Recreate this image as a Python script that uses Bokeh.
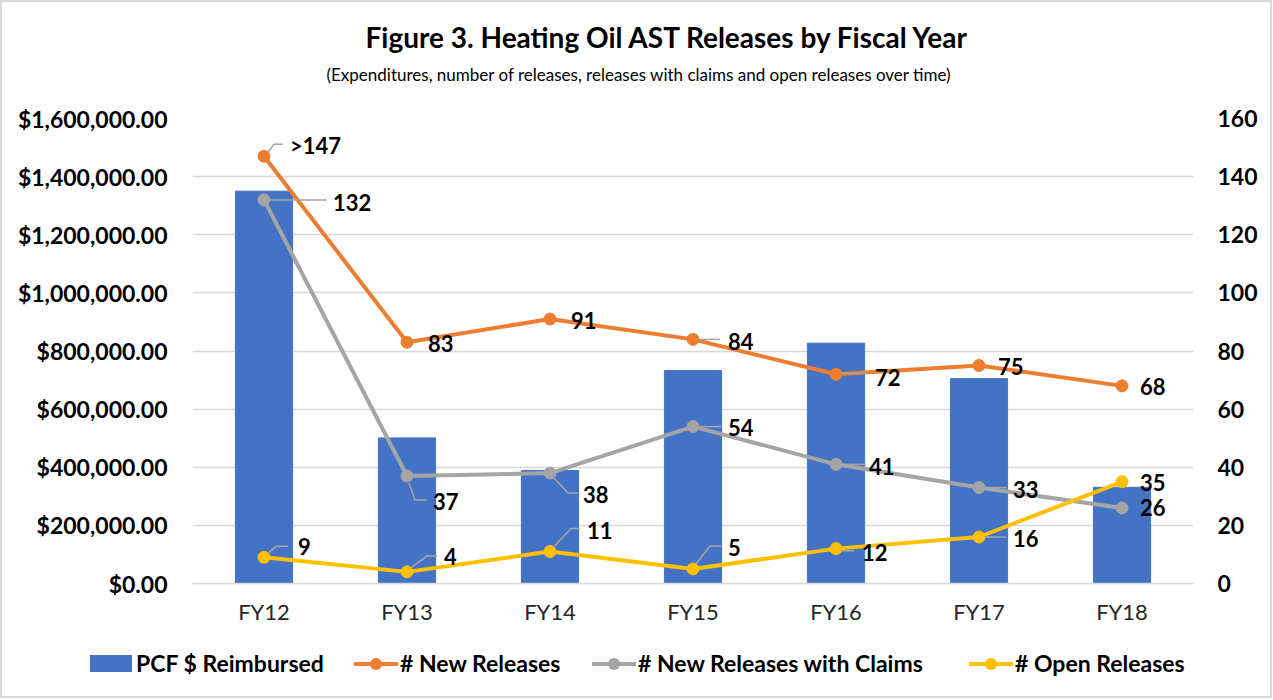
from bokeh.plotting import figure
from bokeh.layouts import column
from bokeh.models import (Range1d, LinearAxis, FixedTicker, NumeralTickFormatter,
                          ColumnDataSource, Title, Div)
from bokeh.core.properties import value
from bokeh.embed import file_html
from bokeh.resources import INLINE

# ---------------- data ----------------
categories = ["FY12", "FY13", "FY14", "FY15", "FY16", "FY17", "FY18"]
pcf_reimbursed = [1350000, 501000, 389000, 733000, 827000, 705000, 331000]
new_releases = [147, 83, 91, 84, 72, 75, 68]
new_releases_text = [">147", "83", "91", "84", "72", "75", "68"]
releases_with_claims = [132, 37, 38, 54, 41, 33, 26]
open_releases = [9, 4, 11, 5, 12, 16, 35]
left_ticks = [0, 200000, 400000, 600000, 800000, 1000000, 1200000, 1400000, 1600000]
right_ticks = [0, 20, 40, 60, 80, 100, 120, 140, 160]
series_names = ["PCF $ Reimbursed", "# New Releases", "# New Releases with Claims",
                "# Open Releases"]

title_text = "Figure 3. Heating Oil AST Releases by Fiscal Year"
subtitle_text = "(Expenditures, number of releases,  releases with claims and open releases over time)"

# ---------------- style ----------------
FONT = "Lato"
BLUE, ORANGE, GREY, YELLOW = "#4472C4", "#ED7D31", "#A5A5A5", "#FFC000"
series_colors = [BLUE, ORANGE, GREY, YELLOW]
legend_left = [88, 352, 590, 967]      # px position of each legend entry
LEADER = "#A6A6A6"
W = 1268
H1, H2 = 638, 56             # chart part / legend strip (inside 2px border)
FL, FT = 190, 116            # frame left / top
FRAME_W, FRAME_H = 1001, 465
X0, X1 = -0.5, 6.5
px_x = FRAME_W / (X1 - X0)
px_y = FRAME_H / right_ticks[-1]

# label offsets in px (dx right, dy down) from each marker
nr_off = [(26, -11), (21, 1), (21, 1), (35, 2), (39, 3), (19, 1), (18, 1)]
cl_off = [(69, 3), (26, 26), (33, 21), (35, 1), (33, 2), (34, 2), (18, 0)]
op_off = [(34, -11), (37, -15), (37, -21), (35, -21), (26, 4), (34, 1), (18, 1)]
# leader-line paths in px offsets from each marker
nr_lead = [[(4, -4), (10, -12), (19, -12)], None, None, [(6, 0), (27, 0)],
           [(6, -1), (31, -1)], None, None]
cl_lead = [[(6, 0), (63, 0)], [(2, 7), (8, 24), (20, 24)], [(4, 5), (18, 20), (28, 20)],
           [(6, 0), (28, 0)], [(6, 0), (30, 0)], [(6, 0), (28, 0)], None]
op_lead = [[(4, -4), (12, -11), (24, -11)], [(4, -4), (20, -16), (30, -16)],
           [(4, -5), (21, -23), (30, -23)], [(3, -5), (17, -23), (28, -23)],
           [(5, 2), (18, 2)], [(6, 0), (27, 0)], None]

xs = list(range(len(categories)))

p = figure(frame_width=FRAME_W, frame_height=FRAME_H, width=W, height=H1,
           x_range=Range1d(X0, X1), y_range=Range1d(0, left_ticks[-1]),
           output_backend="svg", toolbar_location=None, title=title_text,
           min_border_left=FL, min_border_right=W - FL - FRAME_W, min_border_top=FT,
           min_border_bottom=H1 - FT - FRAME_H)
p.extra_y_ranges = {"right": Range1d(0, right_ticks[-1])}
p.outline_line_color = None
p.background_fill_color = "white"
p.border_fill_color = "white"

# titles (stacked outward from the frame: spacer, subtitle, title)
p.title.align = "left"
p.title.offset = 173
p.title.standoff = 2
p.title.text_font = FONT
p.title.text_font_size = "28px"
p.title.text_font_style = "bold"
p.title.text_color = "black"
p.add_layout(Title(text=" ", text_font_size="10px", standoff=14), "above")
p.add_layout(Title(text=subtitle_text, align="left", offset=134, text_font=FONT,
                   text_font_size="17px", text_font_style="normal",
                   text_color="black", standoff=14), "above")

# axes
p.xaxis.ticker = FixedTicker(ticks=xs)
p.xaxis.major_label_overrides = {i: c for i, c in enumerate(categories)}
p.xaxis.axis_line_color = "#D9D9D9"
p.xaxis.axis_line_width = 1.5
p.xaxis.major_tick_line_color = None
p.xaxis.minor_tick_line_color = None
p.xaxis.major_label_standoff = 8
p.xaxis.major_label_text_font = FONT
p.xaxis.major_label_text_font_size = "22px"
p.xaxis.major_label_text_color = "#262626"

p.yaxis.ticker = FixedTicker(ticks=left_ticks)
p.yaxis.formatter = NumeralTickFormatter(format="$0,0.00")
p.yaxis.axis_line_color = None
p.yaxis.major_tick_line_color = None
p.yaxis.minor_tick_line_color = None
p.yaxis.major_label_standoff = 19
p.yaxis.major_label_text_font = FONT
p.yaxis.major_label_text_font_size = "23px"
p.yaxis.major_label_text_font_style = "bold"
p.yaxis.major_label_text_color = "black"

raxis = LinearAxis(y_range_name="right", ticker=FixedTicker(ticks=right_ticks),
                   axis_line_color=None, major_tick_line_color=None,
                   minor_tick_line_color=None, major_label_standoff=18,
                   major_label_text_font=FONT, major_label_text_font_size="23px",
                   major_label_text_font_style="bold", major_label_text_color="black")
p.add_layout(raxis, "right")

p.xgrid.grid_line_color = None
p.ygrid.grid_line_color = "#D9D9D9"
p.ygrid.grid_line_width = 1.5

# bars
p.vbar(x=xs, top=pcf_reimbursed, width=0.4, fill_color=BLUE, line_color=BLUE)

# lines
for vals, color in [(new_releases, ORANGE), (releases_with_claims, GREY),
                    (open_releases, YELLOW)]:
    p.line(xs, vals, line_color=color, line_width=4, y_range_name="right")
    p.scatter(xs, vals, size=12, fill_color=color, line_color=color,
              y_range_name="right")

# leaders and labels
lx, ly = [], []
tx, ty, tt, tdx, tdy = [], [], [], [], []
for vals, texts, offs, leads in [
        (new_releases, new_releases_text, nr_off, nr_lead),
        (releases_with_claims, [str(v) for v in releases_with_claims], cl_off, cl_lead),
        (open_releases, [str(v) for v in open_releases], op_off, op_lead)]:
    for i, v in enumerate(vals):
        tx.append(xs[i]); ty.append(v); tt.append(texts[i])
        tdx.append(offs[i][0]); tdy.append(offs[i][1])
        if leads[i]:
            lx.append([xs[i] + dx / px_x for dx, dy in leads[i]])
            ly.append([v - dy / px_y for dx, dy in leads[i]])

p.multi_line(lx, ly, line_color=LEADER, line_width=1.5, y_range_name="right")
lab_src = ColumnDataSource(dict(x=tx, y=ty, text=tt, dx=tdx, dy=tdy))
p.text(x="x", y="y", text="text", x_offset="dx", y_offset="dy", source=lab_src,
       y_range_name="right", text_font=value(FONT), text_font_size="22px",
       text_font_style="bold", text_color="black", text_align="left",
       text_baseline="middle")

# ---------------- legend strip ----------------
parts = []
for k, (name, color, left) in enumerate(zip(series_names, series_colors, legend_left)):
    if k == 0:
        glyph = (f'<span style="position:absolute;left:0;top:4px;width:42px;height:17px;'
                 f'background:{color}"></span>')
    else:
        glyph = (f'<span style="position:absolute;left:0;top:10.5px;width:44px;height:4px;'
                 f'background:{color}"></span>'
                 f'<span style="position:absolute;left:16px;top:6.5px;width:12px;height:12px;'
                 f'border-radius:50%;background:{color}"></span>')
    parts.append(
        f'<div style="position:absolute;left:{left}px;top:11px;height:25px;white-space:nowrap">'
        f'{glyph}<span style="position:absolute;left:46px;top:0;line-height:25px">'
        f'{name}</span></div>')
legend_html = (f'<div style="position:relative;width:{W}px;height:{H2}px;'
               f'font-family:{FONT};font-weight:bold;font-size:23px;color:black">'
               + "".join(parts) + '</div>')
lg = Div(text=legend_html, width=W, height=H2, margin=0)

layout = column(p, lg, spacing=0, styles={"border": "2px solid #D9D9D9",
                                          "background": "white"})

open("out.html", "w").write(file_html(layout, INLINE))
